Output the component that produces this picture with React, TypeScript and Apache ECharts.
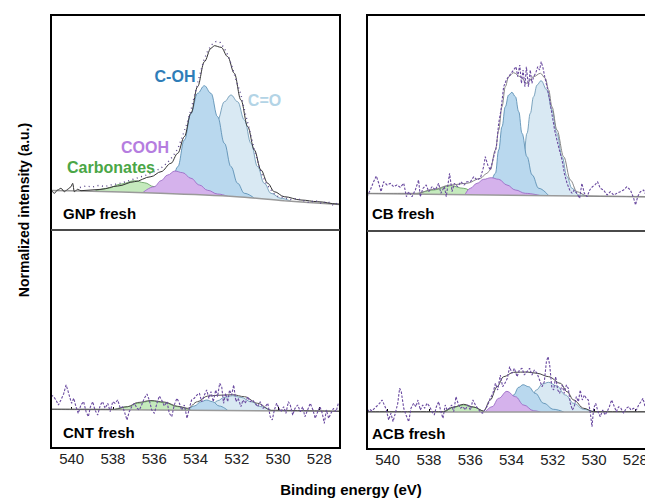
import React, { useEffect, useRef } from "react";
import * as echarts from "echarts";

// ---------- shared axis data ----------
const xTicks = [540, 538, 536, 534, 532, 530, 528];
const xMin = 527;
const xMax = 541;

// ---------- GNP fresh ----------
const gnpBaseline = [[541, 0], [539.5, -0.5], [535.7, -2.8], [532, -6.2], [529.7, -10.2], [527, -14]];
const gnpCarbonates = [[538.9, -0.8], [538.25, 2.2], [537.6, 6.5], [536.96, 9.8], [536.48, 7.8], [536.0, 3.8], [535.51, -0.2], [535.03, -3.3]];
const gnpCOOH = [[536.55, -2.1], [536.0, 3.8], [535.67, 9.8], [535.35, 15.5], [535.0, 19.5], [534.62, 17.8], [534.22, 12.2], [533.81, 5.5], [533.41, 0.2], [532.93, -3.5], [532.44, -5.8]];
const gnpCOH = [[535.6, -2.9], [535.19, 3.8], [534.86, 23.8], [534.54, 50.5], [534.22, 77.2], [533.9, 97.2], [533.57, 104.8], [533.25, 97.2], [532.93, 73.8], [532.6, 47.2], [532.28, 23.8], [531.96, 7.2], [531.63, -2.8], [531.15, -7.7]];
const gnpCO = [[534.54, -3.9], [534.22, -2.8], [533.9, 7.2], [533.57, 23.8], [533.25, 47.2], [532.93, 70.5], [532.6, 88.8], [532.28, 95.5], [531.96, 88.8], [531.63, 70.5], [531.31, 47.2], [530.99, 23.8], [530.67, 7.2], [530.34, -2.8], [529.86, -7.8], [529.4, -10.6]];
const gnpEnvelope = [[541, 1.2], [540.84, -2.8], [540.68, 0.5], [540.52, 2.2], [540.35, -1.2], [540.19, 1.2], [540.03, 3.8], [539.95, 7.2], [539.87, -1.2], [539.71, 1.2], [539.55, -0.2], [538.58, 1.2], [537.77, 4.5], [536.96, 8.8], [536.16, 13.8], [535.67, 18.8], [535.19, 27.2], [534.86, 37.2], [534.54, 53.8], [534.22, 77.2], [533.9, 103.8], [533.57, 128.8], [533.25, 142.2], [533.09, 144.8], [532.76, 143.2], [532.44, 133.8], [532.12, 117.2], [531.8, 90.5], [531.47, 63.8], [531.15, 40.5], [530.83, 20.5], [530.5, 7.2], [530.18, -1.2], [529.7, -6.2], [528.89, -9.5], [528.08, -11.2], [527.11, -13.5], [527, -13.8]];
const gnpRaw = [[539.6, 3], [539.3, 4.5], [539.0, 3.5], [538.7, 5], [538.4, 4], [538.1, 5.5], [537.8, 6.5], [537.5, 8], [537.2, 10], [536.9, 12], [536.6, 14], [536.3, 16], [536.0, 19], [535.7, 22], [535.4, 27], [535.1, 34], [534.85, 42], [534.6, 56], [534.4, 68], [534.2, 82], [534.0, 99], [533.8, 115], [533.6, 130], [533.4, 140], [533.2, 146], [533.0, 149], [532.8, 148], [532.6, 142], [532.4, 134], [532.2, 122], [532.0, 108], [531.8, 96], [531.6, 78], [531.4, 62], [531.2, 45], [531.0, 30], [530.8, 17], [530.6, 8], [530.4, 2], [530.2, -3], [530.0, -6], [529.7, -7], [529.4, -9], [529.1, -8], [528.8, -10], [528.5, -12], [528.2, -10], [527.9, -13], [527.6, -11], [527.3, -15], [527.1, -12]];

// ---------- CB fresh ----------
const cbBaseline = [[541, 0.5], [527, -3]];
const cbCarbonates = [[538.58, -0.1], [537.77, 4], [536.96, 8.3], [536.32, 5.7], [535.83, 2.3], [535.35, -0.9]];
const cbCOOH = [[536.24, -0.2], [536.0, 5.7], [535.67, 10.7], [535.35, 14.7], [534.99, 16.3], [534.62, 14.7], [534.22, 9], [533.81, 4], [533.33, 0.7], [532.6, -1.6]];
const cbCOH = [[535.1, -1], [534.78, 20.7], [534.62, 44], [534.46, 67.3], [534.3, 87.3], [534.14, 99], [533.98, 101.7], [533.81, 97.3], [533.65, 82.3], [533.49, 60.7], [533.25, 37.3], [533.0, 19], [532.68, 5.7], [532.2, -1.7]];
const cbCO = [[533.98, -1.3], [533.73, 5.7], [533.57, 17.3], [533.41, 37.3], [533.25, 60.7], [533.09, 80.7], [532.93, 97.3], [532.76, 109], [532.57, 113.3], [532.28, 104], [532.04, 84], [531.8, 60.7], [531.55, 37.3], [531.31, 17.3], [531.07, 5.7], [530.75, -1], [530.34, -2.1]];
const cbEnvelope = [[541, 0.5], [538.58, 0.7], [537.77, 4.7], [536.96, 9], [536.16, 10.7], [535.51, 15.7], [535.19, 20.7], [535.03, 24], [534.78, 44], [534.62, 64], [534.46, 87.3], [534.3, 107.3], [534.14, 117.3], [533.9, 121.3], [533.57, 117.3], [533.25, 110.7], [532.93, 117.3], [532.6, 120.7], [532.36, 115.7], [532.2, 104], [532.04, 87.3], [531.8, 64], [531.47, 37.3], [531.15, 14], [530.83, 2.3], [530.34, -2], [529.7, -2.3], [527, -3]];
const cbRaw = [[541.0, -2.7], [540.84, 4], [540.68, 12.3], [540.55, 18], [540.43, 10.7], [540.32, 2.3], [540.19, 12.3], [540.03, 9], [539.87, 10.7], [539.71, 7.3], [539.55, 9], [539.39, 6.7], [539.22, 10.7], [539.09, -2.7], [538.98, 2.3], [538.82, -2.7], [538.66, 4], [538.5, 14], [538.42, -2.7], [538.29, 5.7], [538.13, 9], [538.01, 2.3], [537.85, 7.3], [537.69, 4], [537.53, 10.7], [537.42, 0.7], [537.25, 7.3], [537.16, -2.7], [537.0, 20.7], [536.88, 2.3], [536.77, 10.7], [536.61, 7.3], [536.45, 12.3], [536.29, 9], [536.16, 12.3], [535.99, 12.3], [535.83, 17.3], [535.67, 14], [535.51, 15.7], [535.35, 27.3], [535.27, 37.3], [535.15, 29], [535.03, 24], [534.86, 37.3], [534.73, 47.3], [534.62, 70.7], [534.51, 84], [534.38, 107.3], [534.25, 114], [534.14, 117.3], [534.02, 120.7], [533.9, 124], [533.78, 127.3], [533.7, 117.3], [533.6, 129], [533.52, 110.7], [533.44, 124], [533.35, 107.3], [533.28, 127.3], [533.18, 107.3], [533.09, 124], [533.01, 110.7], [532.93, 117.3], [532.83, 120.7], [532.73, 127.3], [532.64, 124], [532.56, 132.3], [532.47, 125.7], [532.39, 117.3], [532.28, 107.3], [532.15, 94], [532.02, 77.3], [531.91, 64], [531.8, 54], [531.68, 44], [531.55, 34], [531.44, 20.7], [531.31, 10.7], [531.18, 4], [531.07, 0.7], [530.96, 4], [530.83, 0.7], [530.7, -4.3], [530.59, 10.7], [530.47, 0.7], [530.34, -2.7], [530.21, 4], [530.08, 7.3], [529.96, 9], [529.83, 12.3], [529.7, 5.7], [529.54, 4], [529.37, -1], [529.21, 2.3], [529.05, -1], [528.89, 0.7], [528.73, 2.3], [528.57, 4], [528.41, 7.3], [528.24, 4], [528.08, -4.3], [527.99, -11], [527.89, -2.7], [527.76, 2.3], [527.6, 4], [527.53, 0.7], [527.4, -1], [527.2, 3], [527.0, 0]];

// ---------- CNT fresh ----------
const cntBaseline = [[541, 0.7], [527, -1.3]];
const cntCarbonates = [[537.93, 0.4], [537.29, 3.3], [536.8, 6.7], [536.16, 9], [535.51, 7.3], [534.86, 3.3], [534.22, -0.2]];
const cntCOH = [[534.38, -0.2], [534.06, 4], [533.73, 8.3], [533.46, 10], [533.17, 8.3], [532.85, 4], [532.44, -0.4]];
const cntCO = [[533.57, -0.2], [533.25, 4], [532.93, 9.3], [532.6, 12.7], [532.2, 14.3], [531.8, 12.7], [531.31, 8.3], [530.83, 3.3], [530.34, -0.5]];
const cntEnvelope = [[541, 0.7], [537.93, 0.7], [537.29, 3.3], [536.8, 7.5], [536.16, 9.5], [535.51, 8], [534.86, 3.7], [534.38, 1.7], [533.9, 8.3], [533.41, 14], [532.93, 14.7], [532.2, 15.3], [531.63, 13.3], [530.99, 6.7], [530.34, -0.3], [527, -1.3]];
const cntRaw = [[541.0, 15], [540.87, 13.3], [540.76, 10], [540.64, 5], [540.52, 10], [540.39, 16], [540.27, 25], [540.19, 20], [540.1, 13.3], [540.0, 6.7], [539.9, 11.7], [539.79, 3.3], [539.68, -3.3], [539.55, 5], [539.42, 8.3], [539.3, -1.7], [539.19, -6.7], [539.09, 3.3], [538.98, 8.3], [538.87, 0], [538.74, -5], [538.61, 5], [538.5, 8.3], [538.38, 1.7], [538.25, 6.7], [538.13, -1.7], [538.01, 8.3], [537.9, 6.7], [537.77, 10], [537.64, 1.7], [537.53, 3.3], [537.42, -3.3], [537.32, -10], [537.21, -1.7], [537.09, 3.3], [536.96, 6.7], [536.83, 1.7], [536.72, 0], [536.61, 5], [536.48, 11.7], [536.35, 16], [536.24, 10], [536.12, 0], [535.99, -3.3], [535.87, 6.7], [535.75, 14], [535.64, 10], [535.51, 4], [535.38, 8.3], [535.27, -3.3], [535.15, -6.7], [535.03, 5], [534.9, 11.7], [534.78, 6.7], [534.67, 0], [534.54, 5], [534.41, -8.3], [534.3, 1.7], [534.19, 10], [534.06, 11.7], [533.93, 15], [533.81, 16.7], [533.7, 8.3], [533.57, 15], [533.46, 20], [533.35, 11.7], [533.25, 18.3], [533.14, 8.3], [533.02, 20], [532.93, 13.3], [532.83, 26.7], [532.73, 23.3], [532.64, 6.7], [532.54, 16.7], [532.44, 8.3], [532.35, 20], [532.25, 15], [532.15, 25], [532.04, 8.3], [531.93, 11.7], [531.8, 3.3], [531.7, 10], [531.59, 6.7], [531.47, 13.3], [531.36, 8.3], [531.23, 10], [531.12, 6.7], [530.99, 3.3], [530.86, 8.3], [530.73, 1.7], [530.62, 3.3], [530.5, 6.7], [530.38, -6.7], [530.28, -10], [530.18, 0], [530.07, 6.7], [529.96, 1.7], [529.86, -1.7], [529.73, 3.3], [529.62, -3.3], [529.5, 8.3], [529.41, 5], [529.29, -5], [529.18, 1.7], [529.05, 5], [528.92, -1.7], [528.81, 3.3], [528.7, -6.7], [528.57, 0], [528.44, 6.7], [528.31, 0], [528.2, -8.3], [528.08, -1.7], [527.97, 3.3], [527.86, -3.3], [527.76, -13.3], [527.66, 0], [527.55, -8.3], [527.44, -3.3], [527.31, 1.7], [527.19, -1.7], [527.08, 6.7]];

// ---------- ACB fresh ----------
const acbBaseline = [[541, 0], [527, 0]];
const acbCarbonates = [[537.29, 0], [536.8, 4.7], [536.32, 7], [535.83, 4.7], [535.35, 0]];
const acbCOOH = [[535.27, 0], [534.94, 5.3], [534.62, 13.7], [534.22, 20.7], [533.81, 15.3], [533.41, 7], [532.93, 1.3], [532.6, 0]];
const acbCOH = [[534.54, 0], [534.22, 5.3], [533.9, 17], [533.65, 24.7], [533.44, 27.3], [533.17, 25.3], [532.85, 18.7], [532.44, 8.7], [531.96, 2.7], [531.47, 0]];
const acbCO = [[533.6, 0], [533.3, 4], [533.05, 13], [532.8, 22], [532.5, 28], [532.2, 29.7], [531.8, 26], [531.39, 17], [530.99, 8.7], [530.5, 2.7], [530.02, 0]];
const acbEnvelope = [[541, 0.3], [537.29, 0.3], [536.8, 5], [536.32, 7.7], [535.83, 5], [535.35, 1], [535.03, 12], [534.7, 25.3], [534.38, 35.3], [533.9, 39.7], [533.25, 40], [532.76, 38.7], [532.2, 35.3], [531.63, 28.7], [531.31, 20.3], [530.99, 12], [530.5, 3.7], [530.02, 0.3], [527, 0.3]];
const acbRaw = [[541.0, 0.3], [540.87, 2.7], [540.76, 1], [540.64, 3.7], [540.52, 6], [540.39, 8.7], [540.27, 12], [540.16, 7], [540.06, 2], [539.95, -8], [539.84, -1.3], [539.74, -9.7], [539.63, -1.3], [539.51, 8.7], [539.42, 23.7], [539.34, 20.3], [539.22, 3.7], [539.11, -3], [538.98, -9.7], [538.87, 3.7], [538.74, 8.7], [538.63, 5.3], [538.53, 12], [538.42, 2], [538.3, 7], [538.21, 3.7], [538.09, 8.7], [537.96, 5.3], [537.85, 0.3], [537.74, -3], [537.64, 5.3], [537.53, 10.3], [537.42, 0.3], [537.32, -6.3], [537.21, 7], [537.12, 2], [537.01, 3.7], [536.9, 7], [536.8, 0.3], [536.69, 15.3], [536.59, 8.7], [536.48, 3.7], [536.35, 5.3], [536.24, 2], [536.12, 7], [535.99, 2], [535.87, 12], [535.75, 7], [535.64, 3.7], [535.51, 0.3], [535.4, -1.3], [535.27, 2.7], [535.15, 7], [535.03, 13.7], [534.9, 18.7], [534.78, 28.7], [534.67, 22], [534.54, 37], [534.43, 25.3], [534.32, 28.7], [534.2, 33.7], [534.09, 45.3], [533.98, 38.7], [533.86, 43.7], [533.73, 35.3], [533.62, 42], [533.49, 43.7], [533.38, 37], [533.25, 40.3], [533.12, 43.7], [533.01, 37], [532.89, 42], [532.76, 38.7], [532.64, 32], [532.52, 25.3], [532.41, 30.3], [532.31, 50.3], [532.23, 55.3], [532.15, 47], [532.05, 25.3], [531.96, 22], [531.86, 35.3], [531.76, 22], [531.67, 18.7], [531.55, 27], [531.44, 18.7], [531.34, 27], [531.25, 23.7], [531.15, 8.7], [531.05, 2], [530.96, 5.3], [530.86, 15.3], [530.76, 10.3], [530.67, 22], [530.57, 12], [530.47, 17], [530.38, 13.7], [530.28, 12], [530.18, -1.3], [530.1, -14.7], [530.02, 3.7], [529.92, 8.7], [529.81, 0.3], [529.7, -4.7], [529.58, 2], [529.47, -3], [529.37, 0.3], [529.26, 5.3], [529.15, 12], [529.05, 7], [528.92, 0.3], [528.81, 5.3], [528.7, 3.7], [528.57, -1.3], [528.44, 3.7], [528.32, 5.3], [528.21, 2], [528.08, 3.7], [527.95, 2], [527.84, 7], [527.73, 10.3], [527.63, 13.7], [527.53, 5.3], [527.3, 2], [527.0, 1]];

// ---------- labels ----------
const panelNames = ["GNP fresh", "CB fresh", "CNT fresh", "ACB fresh"];
const componentNames = ["C-OH", "C=O", "COOH", "Carbonates"];
const xAxisTitle = "Binding energy (eV)";
const yAxisTitle = "Normalized intensity (a.u.)";

// ---------- styles ----------
const FONT = "'Liberation Sans', Arial, Helvetica, sans-serif";
const STYLE = {
  co: { fill: "#d9e9f3", edge: "#5f8fae" },
  coh: { fill: "#b9d8ee", edge: "#4f86ad" },
  carb: { fill: "#c5eabd", edge: "#5e9c58" },
  cooh: { fill: "#d5b2ec", edge: "#9462c2" },
};

type Pt = number[];
interface PanelDef {
  grid: { left: number; top: number; width: number; height: number };
  yMin: number;
  yMax: number;
  showX: boolean;
  baseline: Pt[];
  comps: { data: Pt[]; key: keyof typeof STYLE }[];
  envelope: Pt[];
  envColor: string;
  raw: Pt[];
  rawDotted: boolean;
}

const panels: PanelDef[] = [
  {
    grid: { left: 51, top: 15, width: 289, height: 215 },
    yMin: -39.5, yMax: 175.5, showX: false,
    baseline: gnpBaseline,
    comps: [
      { data: gnpCO, key: "co" },
      { data: gnpCOH, key: "coh" },
      { data: gnpCarbonates, key: "carb" },
      { data: gnpCOOH, key: "cooh" },
    ],
    envelope: gnpEnvelope, envColor: "#333333",
    raw: gnpRaw, rawDotted: true,
  },
  {
    grid: { left: 367, top: 15, width: 289, height: 216 },
    yMin: -37, yMax: 179, showX: false,
    baseline: cbBaseline,
    comps: [
      { data: cbCO, key: "co" },
      { data: cbCOH, key: "coh" },
      { data: cbCarbonates, key: "carb" },
      { data: cbCOOH, key: "cooh" },
    ],
    envelope: cbEnvelope, envColor: "#858585",
    raw: cbRaw, rawDotted: false,
  },
  {
    grid: { left: 51, top: 230, width: 289, height: 218 },
    yMin: -38, yMax: 180, showX: true,
    baseline: cntBaseline,
    comps: [
      { data: cntCO, key: "co" },
      { data: cntCOH, key: "coh" },
      { data: cntCarbonates, key: "carb" },
    ],
    envelope: cntEnvelope, envColor: "#555555",
    raw: cntRaw, rawDotted: false,
  },
  {
    grid: { left: 367, top: 231, width: 289, height: 218 },
    yMin: -37, yMax: 181, showX: true,
    baseline: acbBaseline,
    comps: [
      { data: acbCO, key: "co" },
      { data: acbCOH, key: "coh" },
      { data: acbCarbonates, key: "carb" },
      { data: acbCOOH, key: "cooh" },
    ],
    envelope: acbEnvelope, envColor: "#444444",
    raw: acbRaw, rawDotted: false,
  },
];

function buildOption() {
  const grids: any[] = [];
  const xAxes: any[] = [];
  const yAxes: any[] = [];
  const series: any[] = [];

  panels.forEach((p, i) => {
    grids.push({ ...p.grid, containLabel: false, outerBoundsMode: "none", show: false });
    xAxes.push({
      type: "value",
      gridIndex: i,
      min: xMin,
      max: xMax,
      inverse: true,
      show: p.showX,
      axisLine: { show: false },
      splitLine: { show: false },
      axisTick: { show: true, inside: true, length: 3, customValues: xTicks, lineStyle: { color: "#000", width: 1 } },
      axisLabel: {
        show: true,
        customValues: xTicks,
        margin: 3,
        color: "#222",
        fontSize: 15,
        fontFamily: FONT,
      },
    });
    yAxes.push({ type: "value", gridIndex: i, min: p.yMin, max: p.yMax, show: false, splitLine: { show: false } });

    let z = 2;
    p.comps.forEach((c) => {
      series.push({
        type: "line",
        xAxisIndex: i,
        yAxisIndex: i,
        data: c.data,
        showSymbol: false,
        symbol: "none",
        smooth: 0.4,
        smoothMonotone: "x",
        silent: true,
        z: z++,
        lineStyle: { color: STYLE[c.key].edge, width: 0.8 },
        areaStyle: { color: STYLE[c.key].fill, opacity: 1, origin: "start" },
      });
    });
    // white mask under the background line, plus the line itself
    series.push({
      type: "line",
      xAxisIndex: i,
      yAxisIndex: i,
      data: p.baseline,
      showSymbol: false,
      symbol: "none",
      smooth: 0.3,
      silent: true,
      z: 10,
      lineStyle: { color: "#9a9a9a", width: 1.5 },
      areaStyle: { color: "#ffffff", opacity: 1, origin: "start" },
    });
    series.push({
      type: "line",
      xAxisIndex: i,
      yAxisIndex: i,
      data: p.envelope,
      showSymbol: false,
      symbol: "none",
      smooth: 0.35,
      smoothMonotone: "x",
      silent: true,
      z: 11,
      lineStyle: { color: p.envColor, width: 1 },
    });
    series.push({
      type: "line",
      xAxisIndex: i,
      yAxisIndex: i,
      data: p.raw,
      showSymbol: false,
      symbol: "none",
      smooth: false,
      silent: true,
      z: 12,
      lineStyle: p.rawDotted
        ? { color: "#5d4a8c", width: 1.4, type: [1, 3.5] }
        : { color: "#6a4aa0", width: 1.1, type: [2.5, 1.5] },
    });
  });

  const boldText = (text: string, x: number, y: number, size: number, fill: string, align = "left", extra: any = {}) => ({
    type: "text",
    x,
    y,
    z: 100,
    silent: true,
    ...extra,
    style: {
      text,
      fill,
      font: `bold ${size}px ${FONT}`,
      textAlign: align,
      textVerticalAlign: "middle",
    },
  });

  const graphic: any[] = [
    // frames
    { type: "rect", z: 100, silent: true, shape: { x: 51, y: 15, width: 289, height: 433 }, style: { fill: "none", stroke: "#000", lineWidth: 2 } },
    { type: "line", z: 100, silent: true, shape: { x1: 51, y1: 230, x2: 340, y2: 230 }, style: { stroke: "#4a4a4a", lineWidth: 2 } },
    { type: "rect", z: 100, silent: true, shape: { x: 367, y: 15, width: 300, height: 434 }, style: { fill: "none", stroke: "#000", lineWidth: 2 } },
    { type: "line", z: 100, silent: true, shape: { x1: 367, y1: 231, x2: 645, y2: 231 }, style: { stroke: "#4a4a4a", lineWidth: 2 } },
    // panel names
    boldText(panelNames[0], 63, 213.5, 15, "#000"),
    boldText(panelNames[1], 372, 213.5, 15, "#000"),
    boldText(panelNames[2], 63, 432.5, 15, "#000"),
    boldText(panelNames[3], 372, 433.5, 15, "#000"),
    // component annotations
    boldText(componentNames[0], 175, 76, 16, "#2f7db8", "center"),
    boldText(componentNames[1], 264.5, 100, 16, "#b3d4e6", "center"),
    boldText(componentNames[2], 145, 147, 16, "#b57ddf", "center"),
    boldText(componentNames[3], 111, 167.5, 16, "#4aa646", "center"),
    // axis titles
    boldText(xAxisTitle, 351, 489, 15, "#000", "center"),
    boldText(yAxisTitle, 24, 210, 14, "#000", "center", { rotation: Math.PI / 2 }),
  ];

  return {
    animation: false,
    backgroundColor: "#ffffff",
    grid: grids,
    xAxis: xAxes,
    yAxis: yAxes,
    series,
    graphic,
  };
}

export default function App() {
  const ref = useRef<HTMLDivElement>(null);
  useEffect(() => {
    document.body.style.margin = "0";
    if (!ref.current) return;
    const chart = echarts.init(ref.current, null, { renderer: "svg" });
    chart.setOption(buildOption() as any);
    return () => chart.dispose();
  }, []);
  return <div ref={ref} style={{ width: 645, height: 498, overflow: "hidden" }} />;
}
